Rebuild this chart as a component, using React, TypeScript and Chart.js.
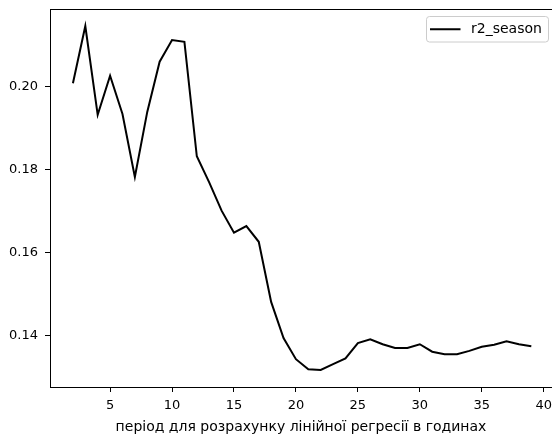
import React, { useEffect, useRef } from "react";
import { Chart, registerables } from "chart.js";

Chart.register(...registerables);

const periods = [
  2, 3, 4, 5, 6, 7, 8, 9, 10, 11, 12, 13, 14, 15, 16, 17, 18, 19, 20, 21,
  22, 23, 24, 25, 26, 27, 28, 29, 30, 31, 32, 33, 34, 35, 36, 37, 38, 39,
];
const r2Season = [
  0.2007, 0.2145, 0.1931, 0.2025, 0.1933, 0.1781, 0.1938, 0.2059, 0.2111,
  0.2107, 0.1831, 0.1768, 0.17, 0.1647, 0.1663, 0.1625, 0.148, 0.1393,
  0.1342, 0.1318, 0.1316, 0.133, 0.1344, 0.1381, 0.139, 0.1378, 0.1369,
  0.1369, 0.1378, 0.136, 0.1354, 0.1354, 0.1362, 0.1372, 0.1377, 0.1385,
  0.1378, 0.1373,
];
const seriesLabel = "r2_season";
const xTickValues = [5, 10, 15, 20, 25, 30, 35, 40];
const yTickValues = [0.14, 0.16, 0.18, 0.2];
const xAxisTitle = "період для розрахунку лінійної регресії в годинах";

const FONT = "'DejaVu Sans', sans-serif";

const frameAndLegend = {
  id: "frameAndLegend",
  afterDraw(chart: any) {
    const { ctx, chartArea } = chart;
    ctx.save();
    // top spine
    ctx.strokeStyle = "#000";
    ctx.lineWidth = 1;
    ctx.beginPath();
    ctx.moveTo(chartArea.left, chartArea.top + 0.5);
    ctx.lineTo(chart.width, chartArea.top + 0.5);
    ctx.stroke();

    // legend (matplotlib style, upper right)
    const ds = chart.data.datasets[0];
    const boxRight = chartArea.right - 3.5;
    const boxLeft = boxRight - 122;
    const boxTop = chartArea.top + 7.5;
    const boxH = 25.5;
    const r = 3;
    ctx.beginPath();
    ctx.moveTo(boxLeft + r, boxTop);
    ctx.lineTo(boxRight - r, boxTop);
    ctx.quadraticCurveTo(boxRight, boxTop, boxRight, boxTop + r);
    ctx.lineTo(boxRight, boxTop + boxH - r);
    ctx.quadraticCurveTo(boxRight, boxTop + boxH, boxRight - r, boxTop + boxH);
    ctx.lineTo(boxLeft + r, boxTop + boxH);
    ctx.quadraticCurveTo(boxLeft, boxTop + boxH, boxLeft, boxTop + boxH - r);
    ctx.lineTo(boxLeft, boxTop + r);
    ctx.quadraticCurveTo(boxLeft, boxTop, boxLeft + r, boxTop);
    ctx.closePath();
    ctx.fillStyle = "rgba(255,255,255,0.8)";
    ctx.fill();
    ctx.strokeStyle = "#cccccc";
    ctx.lineWidth = 1;
    ctx.stroke();

    const midY = boxTop + boxH / 2;
    ctx.strokeStyle = ds.borderColor;
    ctx.lineWidth = 2;
    ctx.beginPath();
    ctx.moveTo(boxLeft + 3.5, midY);
    ctx.lineTo(boxLeft + 34, midY);
    ctx.stroke();

    ctx.fillStyle = "#000";
    ctx.font = `14px ${FONT}`;
    ctx.textBaseline = "middle";
    ctx.textAlign = "left";
    ctx.fillText(ds.label, boxLeft + 44.5, midY);
    ctx.restore();
  },
};

export default function App() {
  const canvasRef = useRef<HTMLCanvasElement | null>(null);

  useEffect(() => {
    document.body.style.margin = "0";
    const canvas = canvasRef.current;
    if (!canvas) return;
    const points = periods.map((p, i) => ({ x: p, y: r2Season[i] }));
    const chart = new Chart(canvas, {
      type: "line",
      data: {
        datasets: [
          {
            label: seriesLabel,
            data: points,
            borderColor: "#000000",
            backgroundColor: "#000000",
            borderWidth: 2,
            pointRadius: 0,
            fill: false,
            tension: 0,
          },
        ],
      },
      options: {
        responsive: false,
        animation: false,
        devicePixelRatio: 1,
        layout: { padding: { top: 9, right: 0, left: 0, bottom: 0 } },
        plugins: {
          legend: { display: false },
          tooltip: { enabled: false },
        },
        scales: {
          x: {
            type: "linear",
            min: 0.15,
            max: 40.67,
            afterFit(scale: any) {
              scale.height = 47;
              scale.paddingLeft = 0;
              scale.paddingRight = 0;
            },
            afterBuildTicks(scale: any) {
              scale.ticks = xTickValues.map((v) => ({ value: v }));
            },
            grid: {
              display: true,
              drawOnChartArea: false,
              drawTicks: true,
              tickLength: 5,
              tickColor: "#000",
              tickWidth: 1,
            },
            border: { display: true, color: "#000", width: 1 },
            ticks: {
              autoSkip: false,
              maxRotation: 0,
              minRotation: 0,
              padding: 5.5,
              color: "#000",
              font: { family: FONT, size: 13 },
              callback: (v: any) => String(v),
            },
            title: {
              display: true,
              text: xAxisTitle,
              color: "#000",
              padding: { top: 0, bottom: 0 },
              font: { family: FONT, size: 14, lineHeight: 1.0 },
            },
          },
          y: {
            type: "linear",
            min: 0.1275,
            max: 0.2186,
            afterFit(scale: any) {
              scale.width = 50;
              scale.paddingTop = 0;
              scale.paddingBottom = 0;
            },
            afterBuildTicks(scale: any) {
              scale.ticks = yTickValues.map((v) => ({ value: v }));
            },
            grid: {
              display: true,
              drawOnChartArea: false,
              drawTicks: true,
              tickLength: 5,
              tickColor: "#000",
              tickWidth: 1,
            },
            border: { display: true, color: "#000", width: 1 },
            ticks: {
              autoSkip: false,
              padding: 7,
              color: "#000",
              font: { family: FONT, size: 13 },
              callback: (v: any) => Number(v).toFixed(2),
            },
          },
        },
      },
      plugins: [frameAndLegend],
    });
    return () => chart.destroy();
  }, []);

  return (
    <div style={{ width: 552, height: 434 }}>
      <canvas ref={canvasRef} width={552} height={434} />
    </div>
  );
}
